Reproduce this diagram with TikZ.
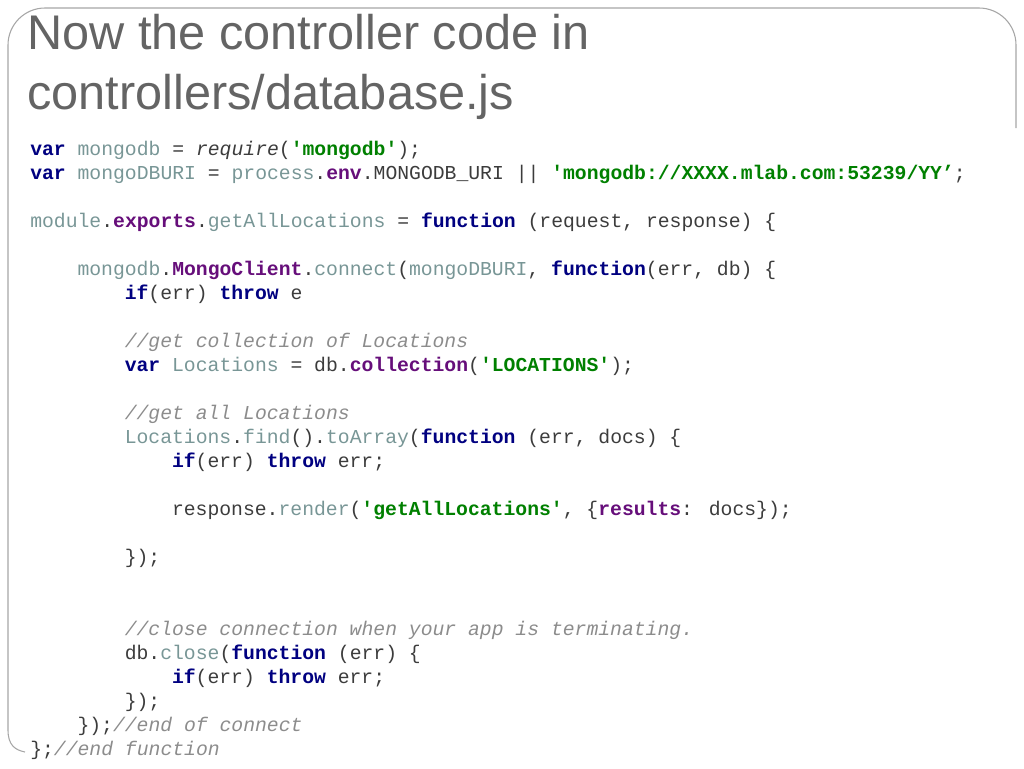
\documentclass[tikz,border=0pt]{standalone}
\usepackage{fontspec}
\setmainfont{Liberation Sans}
\newfontfamily\codef[Ligatures=ResetAll]{Liberation Mono}
\definecolor{kwc}{RGB}{0,0,128}
\definecolor{idc}{RGB}{120,150,150}
\definecolor{stc}{RGB}{0,128,0}
\definecolor{ppc}{RGB}{102,14,122}
\definecolor{cmc}{RGB}{140,140,140}
\definecolor{txc}{RGB}{60,60,60}
\definecolor{tic}{RGB}{100,100,100}
\newcommand{\kw}[1]{\textcolor{kwc}{\bfseries #1}}
\newcommand{\idn}[1]{\textcolor{idc}{#1}}
\newcommand{\st}[1]{\textcolor{stc}{\bfseries #1}}
\newcommand{\pp}[1]{\textcolor{ppc}{\bfseries #1}}
\newcommand{\cm}[1]{\textcolor{cmc}{\itshape #1}}
\newcommand{\q}{\char39}
\newcommand{\ind}[1]{\hspace*{#1\dimexpr 8.86pt\relax}}
\begin{document}
\begin{tikzpicture}[x=0.75pt,y=-0.75pt,
  cl/.style={anchor=base west,inner sep=0pt,font=\codef\fontsize{14.8pt}{18pt}\selectfont,text=txc},
  tl/.style={anchor=base west,inner sep=0pt,font=\fontsize{36.5pt}{40pt}\selectfont,text=tic}]
\useasboundingbox (0,0) rectangle (1024,768);
\draw[gray!70,line width=0.8pt] (1016,128) -- (1016,45) arc[start angle=0,end angle=-90,radius=37] -- (45,8) arc[start angle=-90,end angle=-180,radius=37] -- (8,730) .. controls (8,745) and (15,750) .. (25,752);
\node[tl] (t1) at (27,49) {Now the controller code in};
\node[tl] (t2) at (27,109) {controllers/database.js};
\node[cl] (l1) at (30,155) {\kw{var} \idn{mongodb} = {\itshape require}(\st{\q mongodb\q});};
\node[cl] (l2) at (30,179) {\kw{var} \idn{mongoDBURI} = \idn{process}.\pp{env}.MONGODB\_URI || \st{\q mongodb://XXXX.mlab.com:53239/YY’};};
\node[cl] (l4) at (30,227) {\idn{module}.\pp{exports}.\idn{getAllLocations} =  \kw{function} (request, response) \{};
\node[cl] (l6) at (30,275) {\ind{4}\idn{mongodb}.\pp{MongoClient}.\idn{connect}(\idn{mongoDBURI}, \kw{function}(err, db) \{};
\node[cl] (l7) at (30,299) {\ind{8}\kw{if}(err) \kw{throw} e};
\node[cl] (l9) at (30,347) {\ind{8}\cm{//get collection of Locations}};
\node[cl] (l10) at (30,371) {\ind{8}\kw{var} \idn{Locations} = db.\pp{collection}(\st{\q LOCATIONS\q});};
\node[cl] (l12) at (30,419) {\ind{8}\cm{//get all Locations}};
\node[cl] (l13) at (30,443) {\ind{8}\idn{Locations}.\idn{find}().\idn{toArray}(\kw{function} (err, docs) \{};
\node[cl] (l14) at (30,467) {\ind{12}\kw{if}(err) \kw{throw} err;};
\node[cl] (l16) at (30,515) {\ind{12}response.\idn{render}(\st{\q getAllLocations\q}, \{\pp{results}: docs\});};
\node[cl] (l18) at (30,563) {\ind{8}\});};
\node[cl] (l21) at (30,635) {\ind{8}\cm{//close connection when your app is terminating.}};
\node[cl] (l22) at (30,659) {\ind{8}db.\idn{close}(\kw{function} (err) \{};
\node[cl] (l23) at (30,683) {\ind{12}\kw{if}(err) \kw{throw} err;};
\node[cl] (l24) at (30,707) {\ind{8}\});};
\node[cl] (l25) at (30,731) {\ind{4}\});\cm{//end of connect}};
\node[cl] (l26) at (30,755) {\};\cm{//end function}};
\end{tikzpicture}
\end{document}
